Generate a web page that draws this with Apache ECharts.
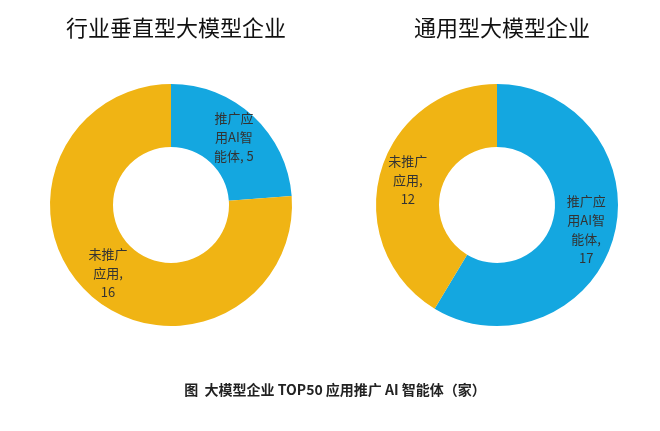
<!DOCTYPE html>
<html><head><meta charset="utf-8">
<script src="https://cdn.jsdelivr.net/npm/echarts@6/dist/echarts.min.js"></script>
<style>html,body{margin:0;padding:0;background:#fff}#c{width:660px;height:431px}</style>
</head><body><div id="c"></div>
<script>
const titles = ['行业垂直型大模型企业', '通用型大模型企业'];
const categories = ['推广应用AI智能体', '未推广应用'];
const leftValues = [5, 16];
const rightValues = [17, 12];
const leftLabels = ['推广应\n用AI智\n能体, 5', '未推广\n应用,\n16'];
const rightLabels = ['推广应用\n用AI智\n能体,\n17', '未推广\n应用,\n12'];
rightLabels[0] = '推广应用\n用AI智\n能体,\n17'.replace('推广应用\n用AI智', '推广应用\n用AI智');
const caption = '图  大模型企业 TOP50 应用推广 AI 智能体（家）';
const colors = ['#14a7e0', '#f0b414'];
const font = '"Noto Sans CJK SC", sans-serif';
function pie(center, vals, labels){
  return {type:'pie', center:center, radius:[58,121], startAngle:90, clockwise:true,
    avoidLabelOverlap:false, silent:true,
    data: vals.map((v,i)=>({name:categories[i], value:v, itemStyle:{color:colors[i]},
      label:{formatter:labels[i]}})),
    label:{show:true, position:'inside', color:'#333', fontSize:13, lineHeight:19, fontFamily:font, align:'center'},
    labelLine:{show:false}};
}
const chart = echarts.init(document.getElementById('c'));
chart.setOption({
  animation:false,
  title:[
    {text:titles[0], left:171, top:12, textAlign:'center', textStyle:{fontSize:22, fontWeight:'normal', color:'#111', fontFamily:font}},
    {text:titles[1], left:497, top:12, textAlign:'center', textStyle:{fontSize:22, fontWeight:'normal', color:'#111', fontFamily:font}},
    {text:caption, left:330, top:378, textAlign:'center', textStyle:{fontSize:14, fontWeight:'bold', color:'#222', fontFamily:font}}
  ],
  series:[pie([171,205], leftValues, leftLabels), pie([497,205], rightValues, ['推广应用\nAI智\n能体,\n17'.replace('推广应用\nAI智','推广应用\n用AI智').replace('推广应用\n用AI智','推广应\n用AI智'), rightLabels[1]])]
});
</script></body></html>
